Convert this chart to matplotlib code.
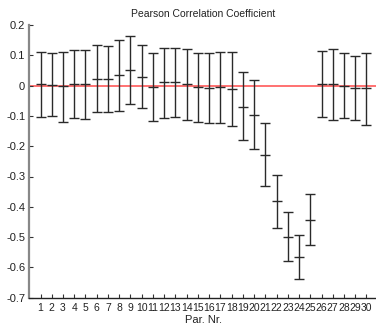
import matplotlib
matplotlib.use("Agg")
import matplotlib.pyplot as plt
import numpy as np

params = list(range(1, 31))
means = [0.005, 0.001, -0.002, 0.005, 0.005, 0.021, 0.023, 0.034, 0.053, 0.029,
         -0.005, 0.011, 0.011, 0.005, -0.005, -0.009, -0.005, -0.012, -0.069, -0.096,
         -0.228, -0.382, -0.500, -0.566, -0.443, 0.005, 0.005, -0.002, -0.009, -0.009]
upper = [0.110, 0.107, 0.110, 0.116, 0.119, 0.133, 0.132, 0.151, 0.163, 0.135,
         0.108, 0.125, 0.123, 0.121, 0.109, 0.107, 0.112, 0.110, 0.045, 0.018,
         -0.122, -0.295, -0.418, -0.494, -0.357, 0.113, 0.122, 0.109, 0.097, 0.107]
lower = [-0.104, -0.101, -0.120, -0.107, -0.109, -0.088, -0.088, -0.085, -0.061, -0.075,
         -0.118, -0.107, -0.104, -0.113, -0.120, -0.124, -0.124, -0.133, -0.180, -0.209,
         -0.333, -0.469, -0.579, -0.638, -0.527, -0.104, -0.113, -0.108, -0.113, -0.131]
yticks = [-0.7, -0.6, -0.5, -0.4, -0.3, -0.2, -0.1, 0, 0.1, 0.2]
ytick_labels = ["-0.7", "-0.6", "-0.5", "-0.4", "-0.3", "-0.2", "-0.1", "0", "0.1", "0.2"]

plt.rcParams['font.family'] = ['Liberation Sans', 'DejaVu Sans']

fig = plt.figure(figsize=(3.76, 3.28), dpi=100)
ax = fig.add_axes([29.3/376, 1-297.7/328, 348.4/376, (297.7-25)/328])

x = np.array(params)
m = np.array(means)
yerr = np.vstack([m - np.array(lower), np.array(upper) - m])

ax.axhline(0, color='#ff6666', lw=1.3, zorder=1)
ax.errorbar(x, m, yerr=yerr, fmt='_', color='#2a2a2a', ecolor='#2a2a2a',
            elinewidth=1.0, capsize=3.8, capthick=1.0, markersize=7.5, mew=1.0, zorder=2)

ax.set_xlim(0, 31)
ax.set_ylim(-0.7, 0.2)
ax.set_xticks(params)
ax.set_xticklabels([str(p) for p in params], fontsize=7.5)
ax.set_yticks(yticks)
ax.set_yticklabels(ytick_labels, fontsize=8)
ax.tick_params(direction='in', length=3, width=0.8, pad=3, labelcolor='#222222', color='#333333')
ax.tick_params(axis='x', pad=4)
for s in ['top', 'right']:
    ax.spines[s].set_visible(False)
ax.spines['left'].set_color('#888888')
ax.spines['left'].set_linewidth(1.6)
ax.spines['bottom'].set_color('#222222')
ax.spines['bottom'].set_linewidth(1.0)
ax.set_title("Pearson Correlation Coefficient", fontsize=7.5, pad=6, color='#222222')
ax.set_xlabel("Par. Nr.", fontsize=8, labelpad=1, color='#222222')

fig.savefig("out.png", dpi=100)
